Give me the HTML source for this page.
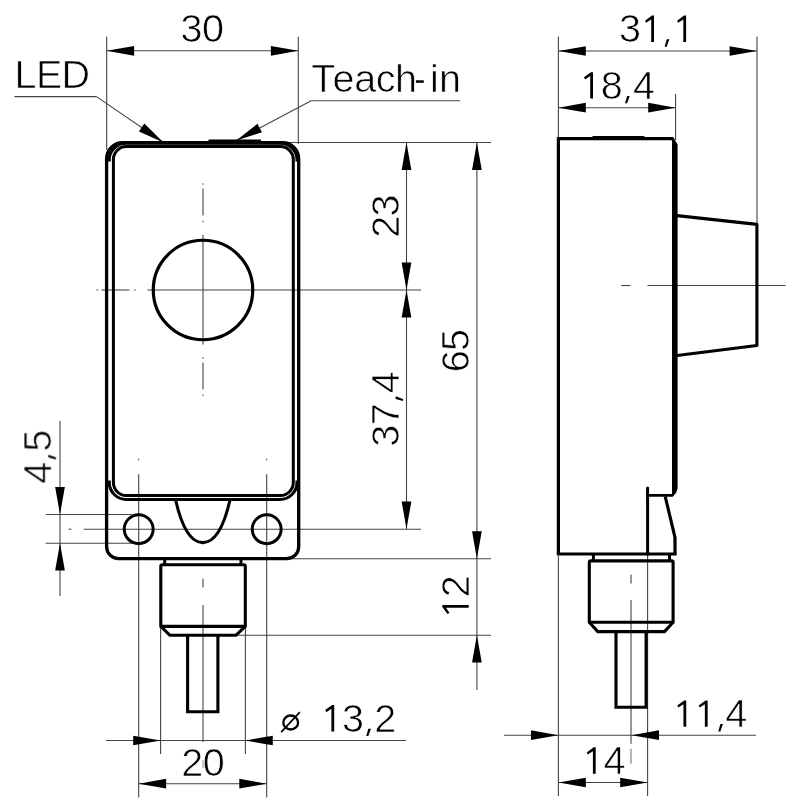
<!DOCTYPE html>
<html><head><meta charset="utf-8"><title>Dimension drawing</title>
<style>
html,body{margin:0;padding:0;background:#fff;}
body{width:800px;height:800px;overflow:hidden;}
svg{display:block;}
text{font-family:"Liberation Sans",sans-serif;fill:#000;stroke:#fff;stroke-width:0.7px;}
</style></head><body>
<svg width="800" height="800" viewBox="0 0 800 800">
<rect width="800" height="800" fill="#fff"/>
<g opacity="0.999"><g transform="translate(180.8,41.5)"><text x="-0.28" y="0.35" font-size="39.52">3</text><text x="21.13" y="0.35" font-size="39.52">0</text></g>
<g transform="translate(14.85,88)"><text x="-0.28" y="0.35" font-size="39.52">L</text><text x="21.07" y="0.35" font-size="39.52">E</text><text x="46.73" y="0.35" font-size="39.52">D</text></g>
<g transform="translate(311.5,91.3)"><text x="-0.31" y="0.35" font-size="39.52">T</text><text x="21.12" y="0.35" font-size="39.52">e</text><text x="42.82" y="0.35" font-size="39.52">a</text><text x="64.25" y="0.35" font-size="39.52">c</text><text x="83.42" y="0.35" font-size="39.52">h</text><rect x="104.40" y="-11" width="7.9" height="2.5" fill="#000"/><text x="118.59" y="0.35" font-size="39.52">i</text><text x="127.42" y="0.35" font-size="39.52">n</text></g>
<g transform="translate(398.3,237.5) rotate(-90)"><text x="-0.28" y="0.35" font-size="39.52">2</text><text x="21.13" y="0.35" font-size="39.52">3</text></g>
<g transform="translate(398.3,446.4) rotate(-90)"><text x="-0.28" y="0.35" font-size="39.52">3</text><text x="21.13" y="0.35" font-size="39.52">7</text><polygon points="47.43,-2.70 50.03,-2.70 47.43,4.70 45.33,4.70" fill="#000"/><text x="53.24" y="0.35" font-size="39.52">4</text></g>
<g transform="translate(468.6,372) rotate(-90)"><text x="-0.28" y="0.35" font-size="39.52">6</text><text x="21.13" y="0.35" font-size="39.52">5</text></g>
<g transform="translate(468.7,618.3) rotate(-90)"><polygon points="13.30,-26.40 11.20,-26.40 4.30,-21.30 5.40,-19.20 10.50,-22.60 10.50,0.00 13.30,0.00" fill="#000"/><text x="21.13" y="0.35" font-size="39.52">2</text></g>
<g transform="translate(51.2,483.4) rotate(-90)"><text x="-0.28" y="0.35" font-size="39.52">4</text><polygon points="26.01,-2.70 28.61,-2.70 26.01,4.70 23.91,4.70" fill="#000"/><text x="31.83" y="0.35" font-size="39.52">5</text></g>
<g transform="translate(320.9,731.4)"><polygon points="13.30,-26.40 11.20,-26.40 4.30,-21.30 5.40,-19.20 10.50,-22.60 10.50,0.00 13.30,0.00" fill="#000"/><text x="21.13" y="0.35" font-size="39.52">3</text><polygon points="47.43,-2.70 50.03,-2.70 47.43,4.70 45.33,4.70" fill="#000"/><text x="53.24" y="0.35" font-size="39.52">2</text></g>
<g transform="translate(181.6,775.3)"><text x="-0.28" y="0.35" font-size="39.52">2</text><text x="21.13" y="0.35" font-size="39.52">0</text></g>
<g transform="translate(619.3,42)"><text x="-0.28" y="0.35" font-size="39.52">3</text><polygon points="34.71,-26.40 32.61,-26.40 25.71,-21.30 26.81,-19.20 31.91,-22.60 31.91,0.00 34.71,0.00" fill="#000"/><polygon points="47.43,-2.70 50.03,-2.70 47.43,4.70 45.33,4.70" fill="#000"/><polygon points="66.82,-26.40 64.72,-26.40 57.82,-21.30 58.92,-19.20 64.02,-22.60 64.02,0.00 66.82,0.00" fill="#000"/></g>
<g transform="translate(579.7,98.6)"><polygon points="13.30,-26.40 11.20,-26.40 4.30,-21.30 5.40,-19.20 10.50,-22.60 10.50,0.00 13.30,0.00" fill="#000"/><text x="21.13" y="0.35" font-size="39.52">8</text><polygon points="47.43,-2.70 50.03,-2.70 47.43,4.70 45.33,4.70" fill="#000"/><text x="53.24" y="0.35" font-size="39.52">4</text></g>
<g transform="translate(672.95,726.8)"><polygon points="13.30,-26.40 11.20,-26.40 4.30,-21.30 5.40,-19.20 10.50,-22.60 10.50,0.00 13.30,0.00" fill="#000"/><polygon points="34.70,-26.40 32.60,-26.40 25.70,-21.30 26.80,-19.20 31.90,-22.60 31.90,0.00 34.70,0.00" fill="#000"/><polygon points="47.40,-2.70 50.00,-2.70 47.40,4.70 45.30,4.70" fill="#000"/><text x="52.27" y="0.35" font-size="39.52">4</text></g>
<g transform="translate(582.4,773.75)"><polygon points="13.30,-26.40 11.20,-26.40 4.30,-21.30 5.40,-19.20 10.50,-22.60 10.50,0.00 13.30,0.00" fill="#000"/><text x="21.13" y="0.35" font-size="39.52">4</text></g>
<ellipse cx="290.7" cy="722.5" rx="7.4" ry="7.0" fill="none" stroke="#000" stroke-width="2.3"/>
<line x1="281.2" y1="732.2" x2="299.8" y2="712.2" stroke="#000" stroke-width="1.7"/></g>
<line x1="106.7" y1="36.7" x2="106.7" y2="150" stroke="#444" stroke-width="1.1" />
<line x1="298.3" y1="36.7" x2="298.3" y2="144" stroke="#444" stroke-width="1.1" />
<line x1="106.7" y1="50.8" x2="298.3" y2="50.8" stroke="#444" stroke-width="1.1" />
<polygon points="106.70,50.80 134.10,45.95 134.10,55.65" fill="#000"/>
<polygon points="298.30,50.80 270.90,55.65 270.90,45.95" fill="#000"/>
<line x1="14.4" y1="96.6" x2="96.5" y2="96.6" stroke="#444" stroke-width="1.1" />
<line x1="96.5" y1="96.6" x2="163.5" y2="142.5" stroke="#444" stroke-width="1.1" />
<polygon points="163.50,142.50 138.93,131.48 144.35,123.56" fill="#000"/>
<line x1="311.2" y1="100.7" x2="460.2" y2="100.7" stroke="#444" stroke-width="1.1" />
<line x1="311.2" y1="100.7" x2="236.3" y2="140.4" stroke="#444" stroke-width="1.1" />
<polygon points="236.30,140.40 257.47,123.75 261.96,132.23" fill="#000"/>
<line x1="289" y1="142.5" x2="491" y2="142.5" stroke="#444" stroke-width="1.1" />
<line x1="96.6" y1="290.0" x2="98.2" y2="290.0" stroke="#444" stroke-width="1.1" />
<line x1="101.6" y1="290.0" x2="129.5" y2="290.0" stroke="#444" stroke-width="1.1" />
<line x1="134.2" y1="290.0" x2="135.8" y2="290.0" stroke="#444" stroke-width="1.1" />
<line x1="147.5" y1="290.0" x2="421" y2="290.0" stroke="#444" stroke-width="1.1" />
<line x1="203" y1="183.2" x2="203" y2="184.8" stroke="#444" stroke-width="1.1" />
<line x1="203" y1="188.5" x2="203" y2="215.5" stroke="#444" stroke-width="1.1" />
<line x1="203" y1="220.7" x2="203" y2="222.3" stroke="#444" stroke-width="1.1" />
<line x1="203" y1="235" x2="203" y2="344.5" stroke="#444" stroke-width="1.1" />
<line x1="203" y1="357.2" x2="203" y2="358.8" stroke="#444" stroke-width="1.1" />
<line x1="203" y1="362.5" x2="203" y2="389.5" stroke="#444" stroke-width="1.1" />
<line x1="203" y1="394.4" x2="203" y2="396" stroke="#444" stroke-width="1.1" />
<line x1="406.5" y1="142.5" x2="406.5" y2="529" stroke="#444" stroke-width="1.1" />
<polygon points="406.50,142.50 411.35,169.90 401.65,169.90" fill="#000"/>
<polygon points="406.50,290.00 401.65,262.60 411.35,262.60" fill="#000"/>
<polygon points="406.50,290.00 411.35,317.40 401.65,317.40" fill="#000"/>
<polygon points="406.50,529.00 401.65,501.60 411.35,501.60" fill="#000"/>
<line x1="476.9" y1="142.5" x2="476.9" y2="690" stroke="#444" stroke-width="1.1" />
<polygon points="476.90,142.50 481.75,169.90 472.05,169.90" fill="#000"/>
<polygon points="476.90,558.70 472.05,531.30 481.75,531.30" fill="#000"/>
<polygon points="476.90,635.20 481.75,662.60 472.05,662.60" fill="#000"/>
<line x1="68.7" y1="529.2" x2="71.3" y2="529.2" stroke="#444" stroke-width="1.1" />
<line x1="83.7" y1="529.2" x2="421" y2="529.2" stroke="#444" stroke-width="1.1" />
<line x1="45.7" y1="514.5" x2="132" y2="514.5" stroke="#444" stroke-width="1.1" />
<line x1="45.7" y1="543.2" x2="132" y2="543.2" stroke="#444" stroke-width="1.1" />
<line x1="60" y1="421" x2="60" y2="596" stroke="#444" stroke-width="1.1" />
<polygon points="60.00,514.50 55.15,487.10 64.85,487.10" fill="#000"/>
<polygon points="60.00,543.20 64.85,570.60 55.15,570.60" fill="#000"/>
<line x1="138.7" y1="458.7" x2="138.7" y2="460.3" stroke="#444" stroke-width="1.1" />
<line x1="138.7" y1="474.3" x2="138.7" y2="797.5" stroke="#444" stroke-width="1.1" />
<line x1="266.7" y1="458.7" x2="266.7" y2="460.3" stroke="#444" stroke-width="1.1" />
<line x1="266.7" y1="474.3" x2="266.7" y2="797.5" stroke="#444" stroke-width="1.1" />
<line x1="285" y1="558.7" x2="491" y2="558.7" stroke="#444" stroke-width="1.1" />
<line x1="237.5" y1="635.2" x2="491" y2="635.2" stroke="#444" stroke-width="1.1" />
<line x1="203" y1="578.7" x2="203" y2="587.5" stroke="#444" stroke-width="1.1" />
<line x1="203" y1="605" x2="203" y2="742" stroke="#444" stroke-width="1.1" />
<line x1="203" y1="760" x2="203" y2="768" stroke="#999" stroke-width="1.1" />
<line x1="160.6" y1="628" x2="160.6" y2="754" stroke="#444" stroke-width="1.1" />
<line x1="245.4" y1="628" x2="245.4" y2="754" stroke="#444" stroke-width="1.1" />
<line x1="106" y1="740.5" x2="406" y2="740.5" stroke="#444" stroke-width="1.1" />
<polygon points="160.60,740.50 133.20,745.35 133.20,735.65" fill="#000"/>
<polygon points="245.40,740.50 272.80,735.65 272.80,745.35" fill="#000"/>
<line x1="138.7" y1="783.7" x2="266.7" y2="783.7" stroke="#444" stroke-width="1.1" />
<polygon points="138.70,783.70 166.10,778.85 166.10,788.55" fill="#000"/>
<polygon points="266.70,783.70 239.30,788.55 239.30,778.85" fill="#000"/>
<path d="M106.6,546.7 L106.6,158.7 A16,16 0 0 1 122.6,142.7 L282.7,142.7 A16,16 0 0 1 298.7,158.7 L298.7,546.7 A12,12 0 0 1 286.7,558.7 L118.6,558.7 A12,12 0 0 1 106.6,546.7 Z" stroke="#000" stroke-width="3.3" fill="none" />
<path d="M113.4,482.5 L113.4,159.6 A13,13 0 0 1 126.4,146.6 L280.3,146.6 A13,13 0 0 1 293.3,159.6 L293.3,482.5 A13,13 0 0 1 280.3,495.5 L126.4,495.5 A13,13 0 0 1 113.4,482.5 Z" stroke="#000" stroke-width="3" fill="none" />
<path d="M109.30000000000001,161.6 L109.30000000000001,159.6 A17.1,16.5 0 0 1 126.4,143.1 L279.90000000000003,143.1 A17.1,16.5 0 0 1 297.00000000000006,159.6 L297.00000000000006,161.6" stroke="#000" stroke-width="3.1" fill="none" />
<path d="M109.30000000000001,480.5 L109.30000000000001,482.5 A17.1,17.0 0 0 0 126.4,499.5 L279.90000000000003,499.5 A17.1,17.0 0 0 0 297.00000000000006,482.5 L297.00000000000006,480.5" stroke="#000" stroke-width="3.1" fill="none" />
<line x1="208.5" y1="140.6" x2="261" y2="140.6" stroke="#000" stroke-width="2" />
<circle cx="203" cy="290.0" r="49.75" stroke="#000" stroke-width="3.2" fill="none"/>
<circle cx="138.7" cy="529.2" r="14.45" stroke="#000" stroke-width="3" fill="none"/>
<circle cx="266.7" cy="529.2" r="14.45" stroke="#000" stroke-width="3" fill="none"/>
<path d="M175.6,500 C182,528 191,542.6 202.8,542.6 C214.6,542.6 223.6,528 230,500" stroke="#000" stroke-width="3.1" fill="none" />
<line x1="164.7" y1="558.7" x2="164.7" y2="564.7" stroke="#000" stroke-width="3" />
<line x1="241" y1="558.7" x2="241" y2="564.7" stroke="#000" stroke-width="3" />
<path d="M160.8,626.4 L160.8,566.2 Q160.8,564.7 162.3,564.7 L243.8,564.7 Q245.3,564.7 245.3,566.2 L245.3,626.4 Z" stroke="#000" stroke-width="3.1" fill="none" stroke-linejoin="round"/>
<path d="M160.8,626.4 L170,635.3 L235.8,635.3 L245.3,626.4" stroke="#000" stroke-width="3.1" fill="none" stroke-linejoin="round"/>
<path d="M187.6,635.3 L187.6,711.8 L217.9,711.8 L217.9,635.3" stroke="#000" stroke-width="3.1" fill="none" />
<line x1="558.4" y1="36.4" x2="558.4" y2="140" stroke="#444" stroke-width="1.1" />
<line x1="757" y1="36.4" x2="757" y2="224" stroke="#444" stroke-width="1.1" />
<line x1="558.4" y1="51" x2="757" y2="51" stroke="#444" stroke-width="1.1" />
<polygon points="558.40,51.00 585.80,46.15 585.80,55.85" fill="#000"/>
<polygon points="757.00,51.00 729.60,55.85 729.60,46.15" fill="#000"/>
<line x1="675.6" y1="94" x2="675.6" y2="140" stroke="#444" stroke-width="1.1" />
<line x1="558.4" y1="107.7" x2="675.6" y2="107.7" stroke="#444" stroke-width="1.1" />
<polygon points="558.40,107.70 585.80,102.85 585.80,112.55" fill="#000"/>
<polygon points="675.60,107.70 648.20,112.55 648.20,102.85" fill="#000"/>
<line x1="621.2" y1="285.5" x2="630.5" y2="285.5" stroke="#444" stroke-width="1.1" />
<line x1="647.5" y1="285.5" x2="785.5" y2="285.5" stroke="#444" stroke-width="1.1" />
<line x1="558.4" y1="556" x2="558.4" y2="796" stroke="#444" stroke-width="1.1" />
<line x1="647.6" y1="554" x2="647.6" y2="631.5" stroke="#444" stroke-width="1.1" />
<line x1="647.6" y1="631" x2="647.6" y2="796" stroke="#444" stroke-width="1.1" />
<line x1="631" y1="574.6" x2="631" y2="583.4" stroke="#444" stroke-width="1.1" />
<line x1="631" y1="600" x2="631" y2="743.8" stroke="#444" stroke-width="1.1" />
<line x1="631" y1="748.8" x2="631" y2="763.8" stroke="#777" stroke-width="1.1" />
<line x1="504" y1="735.2" x2="756" y2="735.2" stroke="#444" stroke-width="1.1" />
<polygon points="558.40,735.20 531.00,740.05 531.00,730.35" fill="#000"/>
<polygon points="631.60,735.20 659.00,730.35 659.00,740.05" fill="#000"/>
<line x1="558.4" y1="782.5" x2="647.6" y2="782.5" stroke="#444" stroke-width="1.1" />
<polygon points="558.40,782.50 585.80,777.65 585.80,787.35" fill="#000"/>
<polygon points="647.60,782.50 620.20,787.35 620.20,777.65" fill="#000"/>
<path d="M558.4,554.0 L558.4,138.6 L672,138.6" stroke="#000" stroke-width="3.2" fill="none" stroke-linejoin="miter"/>
<line x1="592.5" y1="137.2" x2="644.4" y2="137.2" stroke="#000" stroke-width="2.4" />
<polygon fill="#000" points="671,137 673.2,137 677.6,144.5 677.6,488.3 676.3,492.6 672.8,496.7 646.1,496.7 646.1,494 672,494 672,140.2 671,140.2"/>
<path d="M677,215.6 L756.9,224.4 L756.9,345.5 L677,355.5" stroke="#000" stroke-width="3.1" fill="none" stroke-linejoin="round"/>
<path d="M647.6,488 L647.6,554" stroke="#000" stroke-width="3" fill="none" stroke-linecap="round"/>
<path d="M665.2,496.5 L675,537.5 L675,554" stroke="#000" stroke-width="3.2" fill="none" stroke-linejoin="round"/>
<path d="M556.8,554.0 L676.6,554.0" stroke="#000" stroke-width="3.2" fill="none" />
<line x1="593.4" y1="554" x2="593.4" y2="560.9" stroke="#000" stroke-width="3" />
<line x1="669.5" y1="554" x2="669.5" y2="560.9" stroke="#000" stroke-width="3" />
<path d="M589.3,622.3 L589.3,562.4 Q589.3,560.9 590.8,560.9 L671.6,560.9 Q673.1,560.9 673.1,562.4 L673.1,622.3 Z" stroke="#000" stroke-width="3.1" fill="none" stroke-linejoin="round"/>
<path d="M589.3,622.3 L597.8,631.6 L664.5,631.6 L673.1,622.3" stroke="#000" stroke-width="3.1" fill="none" stroke-linejoin="round"/>
<path d="M616,631.6 L616,707.2 L646.1,707.2 L646.1,631.6" stroke="#000" stroke-width="3.1" fill="none" />
</svg>
</body></html>
